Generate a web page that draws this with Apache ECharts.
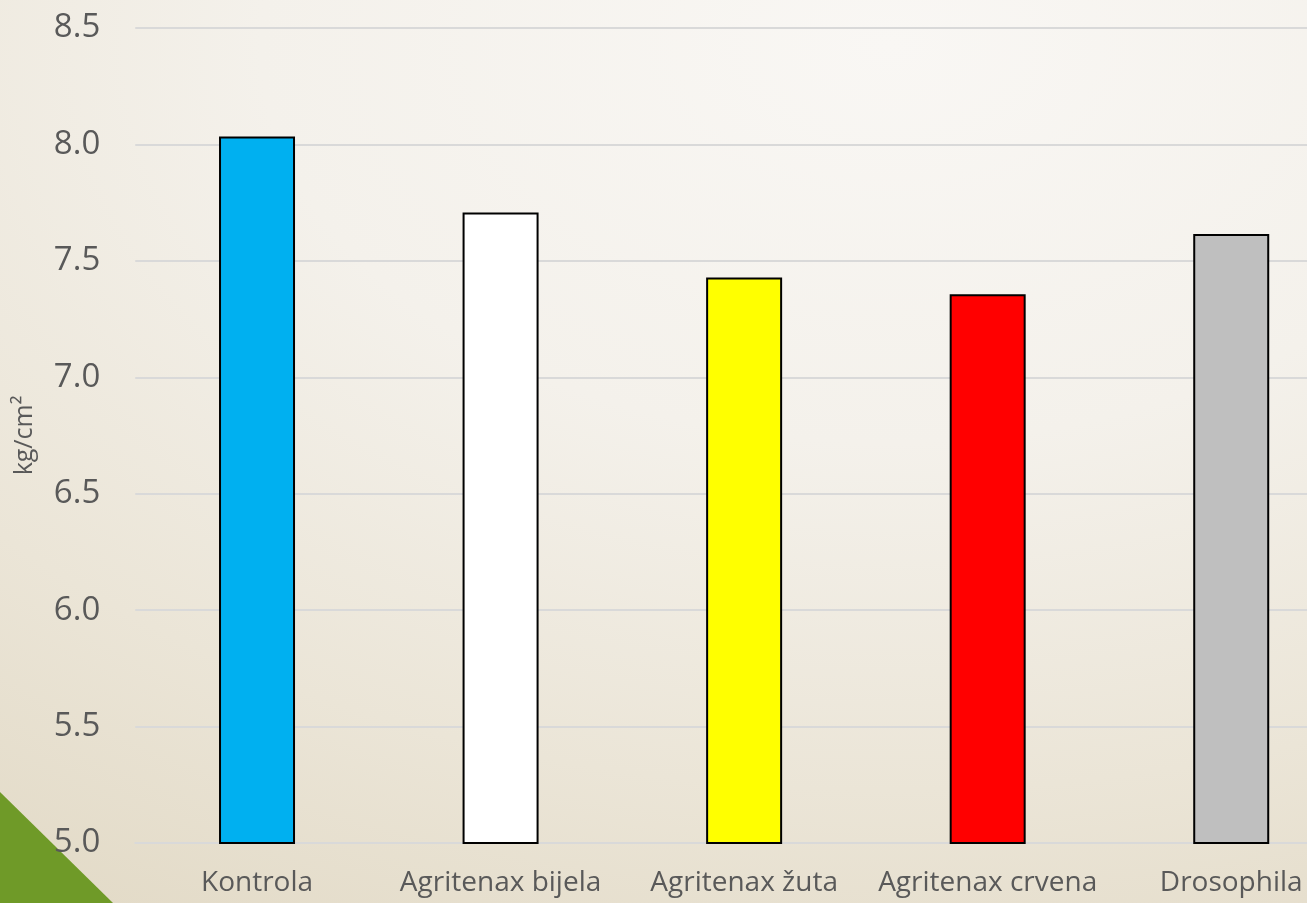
<!DOCTYPE html>
<html>
<head>
<meta charset="utf-8">
<script src="https://cdn.jsdelivr.net/npm/echarts@6/dist/echarts.min.js"></script>
<style>
html,body{margin:0;padding:0;overflow:hidden;width:1307px;height:903px;}
#wrap{width:1307px;height:903px;overflow:hidden;position:relative;background:radial-gradient(ellipse 120% 110% at 68% 5%, #f9f7f4 0%, #f4f1eb 40%, #ebe5d7 75%, #e3dbc8 100%);}
#chart{width:1353px;height:903px;position:absolute;left:0;top:0;}
</style>
</head>
<body>
<div id="wrap"><div id="chart"></div></div>
<script>
const categories = ['Kontrola', 'Agritenax bijela', 'Agritenax žuta', 'Agritenax crvena', 'Drosophila'];
const values = [8.034, 7.708, 7.429, 7.357, 7.615];
const barColors = ['#00b0f0', '#ffffff', '#ffff00', '#ff0000', '#bfbfbf'];
const yTicks = [5.0, 5.5, 6.0, 6.5, 7.0, 7.5, 8.0, 8.5];
const yName = 'kg/cm²';

const chart = echarts.init(document.getElementById('chart'));
chart.setOption({
  backgroundColor: 'transparent',
  animation: false,
  textStyle: {fontFamily: 'Open Sans'},
  graphic: [{
    type: 'polygon',
    z: -10,
    silent: true,
    shape: {points: [[0, 792], [0, 903], [113, 903]]},
    style: {fill: '#6f9a28'}
  }],
  grid: {left: 135.25, right: 0, top: 28, bottom: 60, containLabel: false},
  xAxis: {
    type: 'category',
    data: categories,
    axisLine: {show: true, lineStyle: {color: '#d9d9d9', width: 2}},
    axisTick: {show: false},
    axisLabel: {color: '#595959', fontSize: 28, margin: 26, interval: 0}
  },
  yAxis: {
    type: 'value',
    min: yTicks[0],
    max: yTicks[yTicks.length - 1],
    interval: 0.5,
    name: yName,
    nameLocation: 'middle',
    nameRotate: 90,
    nameGap: 98,
    nameTextStyle: {color: '#595959', fontSize: 25},
    axisLine: {show: false},
    axisTick: {show: false},
    splitLine: {lineStyle: {color: '#d9d9d9', width: 2}},
    axisLabel: {color: '#595959', fontSize: 33, margin: 35, formatter: v => v.toFixed(1)}
  },
  series: [{
    type: 'bar',
    barWidth: 76,
    data: values.map((v, i) => ({value: v, itemStyle: {color: barColors[i]}})),
    itemStyle: {borderColor: '#000000', borderWidth: 2}
  }]
});
</script>
</body>
</html>
